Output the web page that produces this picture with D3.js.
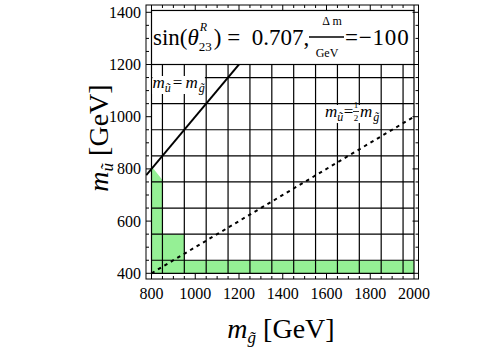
<!DOCTYPE html>
<html>
<head>
<meta charset="utf-8">
<script src="https://cdn.jsdelivr.net/npm/d3@7"></script>
<style>
  html, body { margin: 0; padding: 0; background: #fff; }
  svg { display: block; }
</style>
</head>
<body>
<svg id="chart" width="500" height="350" font-family="'Liberation Serif', 'Times New Roman', serif"></svg>
<script>
// Gluino mass axis (GeV) and squark mass axis (GeV)
const xTicks = [800, 1000, 1200, 1400, 1600, 1800, 2000];
const yTicks = [400, 600, 800, 1000, 1200, 1400];
const minorStep = 50;

// Scan grid: cells of 100 GeV centred on the scanned mass points
const gridX = [800, 850, 950, 1050, 1150, 1250, 1350, 1450, 1550, 1650, 1750, 1850, 1950, 2000];
const gridY = [400, 450, 550, 650, 750, 850, 950, 1050, 1150, 1200];

// Excluded region boundary (gluino mass, squark mass)
const excludedMg = [800, 800, 850, 850, 950, 950, 2000, 2000];
const excludedMu = [400, 810, 757, 550, 550, 450, 450, 400];

// Reference lines: m_u = m_g and m_u = m_g / 2
const equalLineMg = [776, 1250];
const halfLineMg = [800, 2000];

// Parameter box
const sinTheta = "0.707";
const deltaM = "\u2212100";

const TICK_FONT = "Liberation Serif";
const svg = d3.select("#chart");
const frame = { left: 146, right: 418.5, top: 5, bottom: 279 };

const x = d3.scaleLinear().domain([800, 2000]).range([151.5, 414]);
const y = d3.scaleLinear().domain([400, 1400]).range([273.3, 12.3]);

svg.append("defs").append("clipPath").attr("id", "plotClip")
  .append("rect")
  .attr("x", frame.left).attr("y", frame.top)
  .attr("width", frame.right - frame.left).attr("height", frame.bottom - frame.top);

const plot = svg.append("g").attr("clip-path", "url(#plotClip)");

// Excluded (green) region
const excluded = excludedMg.map((m, i) => [x(m), y(excludedMu[i])]);
plot.append("path")
  .attr("d", d3.line()(excluded) + "Z")
  .attr("fill", "#95f095")
  .attr("stroke", "none");

// Scan grid mesh
const yLo = d3.min(gridY), yHi = d3.max(gridY);
const xLo = d3.min(gridX), xHi = d3.max(gridX);
plot.append("g").selectAll("line").data(gridX).join("line")
  .attr("x1", d => x(d)).attr("x2", d => x(d))
  .attr("y1", y(yLo)).attr("y2", y(yHi))
  .attr("stroke", "#000").attr("stroke-width", 1.2);
plot.append("g").selectAll("line").data(gridY).join("line")
  .attr("x1", x(xLo)).attr("x2", x(xHi))
  .attr("y1", d => y(d)).attr("y2", d => y(d))
  .attr("stroke", "#000").attr("stroke-width", 1.2);

// m_u = m_g
plot.append("path")
  .attr("d", d3.line().x(d => x(d)).y(d => y(d))(equalLineMg))
  .attr("fill", "none").attr("stroke", "#000").attr("stroke-width", 2);

// m_u = m_g / 2
plot.append("path")
  .attr("d", d3.line().x(d => x(d)).y(d => y(d / 2))(halfLineMg))
  .attr("fill", "none").attr("stroke", "#000").attr("stroke-width", 2)
  .attr("stroke-dasharray", "3.5,4");

// Parameter box on top of the scan region
const boxTop = 1407;
plot.append("rect")
  .attr("x", x(800)).attr("y", y(boxTop))
  .attr("width", x(2000) - x(800)).attr("height", y(1200) - y(boxTop))
  .attr("fill", "#fff").attr("stroke", "#000").attr("stroke-width", 1.2);

// sin(θ^R_23) = 0.707, Δm/GeV = −100
const head = svg.append("g");
const t1 = head.append("text").attr("x", 153).attr("y", 45).attr("font-size", 23);
t1.append("tspan").text("sin(");
t1.append("tspan").attr("font-style", "italic").text("\u03b8");
const t1w = t1.node().getComputedTextLength();
head.append("text").attr("x", 153 + t1w).attr("y", 51).attr("font-size", 13).text("23");
head.append("text").attr("x", 153 + t1w + 1).attr("y", 31).attr("font-size", 12)
  .attr("font-style", "italic").text("R");
head.append("text").attr("x", 153 + t1w + 15).attr("y", 45).attr("font-size", 23)
  .text(")\u00a0=\u00a0\u00a0" + sinTheta + ",");
head.append("text").attr("x", 332).attr("y", 25).attr("font-size", 12)
  .attr("text-anchor", "middle").text("\u0394\u2009m");
head.append("line").attr("x1", 309).attr("x2", 344).attr("y1", 37).attr("y2", 37)
  .attr("stroke", "#000").attr("stroke-width", 1.4);
head.append("text").attr("x", 327).attr("y", 57).attr("font-size", 12)
  .attr("text-anchor", "middle").text("GeV");
head.append("text").attr("x", 345).attr("y", 45).attr("font-size", 23)
  .attr("letter-spacing", 0.8).text("=" + deltaM);

// Line labels: italic math pieces on a white backing
function mathPiece(g, xp, yp, parts) {
  const t = g.append("text").attr("x", xp).attr("y", yp).attr("font-size", 17);
  parts.forEach(p => {
    const s = t.append("tspan").text(p.t);
    if (p.italic) s.attr("font-style", "italic");
    if (p.size) s.attr("font-size", p.size);
    if (p.dy) s.attr("dy", p.dy);
    if (p.dx) s.attr("dx", p.dx);
  });
  return t.node().getBBox();
}
function backing(g, boxes) {
  const x0 = d3.min(boxes, b => b.x), x1 = d3.max(boxes, b => b.x + b.width);
  const y0 = d3.min(boxes, b => b.y), y1 = d3.max(boxes, b => b.y + b.height);
  g.insert("rect", ":first-child")
    .attr("x", x0).attr("y", y0 + 3).attr("width", x1 - x0).attr("height", y1 - y0 - 4)
    .attr("fill", "#fff");
}

const lab1 = svg.append("g");
backing(lab1, [mathPiece(lab1, 152.5, 88, [
  { t: "m", italic: true },
  { t: "u\u0303", italic: true, size: 12, dy: 4 },
  { t: "=", dy: -4, dx: 2 },
  { t: "m", italic: true, dx: 3 },
  { t: "g\u0303", italic: true, size: 12, dy: 4, dx: 1 }
])]);

const lab2 = svg.append("g");
backing(lab2, [
  mathPiece(lab2, 325, 117, [
    { t: "m", italic: true },
    { t: "u\u0303", italic: true, size: 12, dy: 4 },
    { t: "=", dy: -4, dx: 0.5 }
  ]),
  mathPiece(lab2, 360, 117, [
    { t: "m", italic: true },
    { t: "g\u0303", italic: true, size: 12, dy: 4, dx: 1 }
  ])
]);
// the ½ as a stacked fraction
lab2.append("text").attr("x", 356).attr("y", 108).attr("font-size", 9).attr("text-anchor", "middle").text("1");
lab2.append("line").attr("x1", 353).attr("x2", 359).attr("y1", 111.5).attr("y2", 111.5).attr("stroke", "#000").attr("stroke-width", 0.8);
lab2.append("text").attr("x", 356).attr("y", 121).attr("font-size", 9).attr("text-anchor", "middle").text("2");

// Frame
svg.append("rect")
  .attr("x", frame.left).attr("y", frame.top)
  .attr("width", frame.right - frame.left).attr("height", frame.bottom - frame.top)
  .attr("fill", "none").attr("stroke", "#000").attr("stroke-width", 1);

// Ticks (inward, on all four sides)
const xMinor = d3.range(800, 2001, minorStep).filter(v => !xTicks.includes(v));
const yMinor = d3.range(400, 1401, minorStep).filter(v => !yTicks.includes(v));
const tickG = svg.append("g").attr("stroke", "#000").attr("stroke-width", 1);
function xTick(v, len) {
  tickG.append("line").attr("x1", x(v)).attr("x2", x(v)).attr("y1", frame.bottom).attr("y2", frame.bottom - len);
  tickG.append("line").attr("x1", x(v)).attr("x2", x(v)).attr("y1", frame.top).attr("y2", frame.top + len);
}
function yTick(v, len) {
  tickG.append("line").attr("y1", y(v)).attr("y2", y(v)).attr("x1", frame.left).attr("x2", frame.left + len);
  tickG.append("line").attr("y1", y(v)).attr("y2", y(v)).attr("x1", frame.right).attr("x2", frame.right - len);
}
xTicks.forEach(v => xTick(v, 6));
xMinor.forEach(v => xTick(v, 3));
yTicks.forEach(v => yTick(v, 6));
yMinor.forEach(v => yTick(v, 3));

// Tick labels
svg.append("g").selectAll("text").data(xTicks).join("text")
  .attr("x", d => x(d)).attr("y", 299).attr("font-size", 16)
  .attr("font-family", TICK_FONT)
  .attr("text-anchor", "middle").text(d => d);
svg.append("g").selectAll("text").data(yTicks).join("text")
  .attr("x", 141).attr("y", d => y(d) + 5.5).attr("font-size", 16)
  .attr("font-family", TICK_FONT)
  .attr("text-anchor", "end").text(d => d);

// Axis titles
const xt = svg.append("text").attr("x", 281).attr("y", 338).attr("font-size", 28).attr("text-anchor", "middle");
xt.append("tspan").attr("font-style", "italic").text("m");
xt.append("tspan").attr("font-style", "italic").attr("font-size", 17).attr("dy", 5).text("g\u0303");
xt.append("tspan").attr("dy", -5).text("\u00a0[GeV]");

const yt = svg.append("text").attr("transform", "translate(108,138) rotate(-90)")
  .attr("font-size", 28).attr("text-anchor", "middle");
yt.append("tspan").attr("font-style", "italic").text("m");
yt.append("tspan").attr("font-style", "italic").attr("font-size", 17).attr("dy", 5).text("u\u0303");
yt.append("tspan").attr("dy", -5).text("\u00a0[GeV]");
</script>
</body>
</html>
